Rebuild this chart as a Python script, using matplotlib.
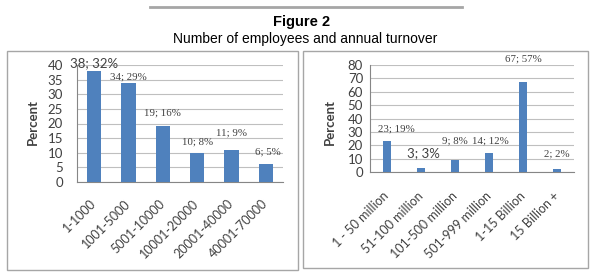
import matplotlib.pyplot as plt
from matplotlib.patches import Rectangle
from matplotlib.lines import Line2D

bar_color = "#4F81BD"
grid_color = "#BFBFBF"
box_color = "#A6A6A6"
text_color = "#404040"

# left chart: number of employees
employee_groups = ["1-1000", "1001-5000", "5001-10000",
                   "10001-20000", "20001-40000", "40001-70000"]
employee_counts = [38, 34, 19, 10, 11, 6]
employee_shares = [32, 29, 16, 8, 9, 5]

# right chart: annual turnover
turnover_groups = ["1 - 50 million", "51-100 million", "101-500 million",
                   "501-999 million", "1-15 Billion", "15 Billion +"]
turnover_counts = [23, 3, 9, 14, 67, 2]
turnover_shares = [19, 3, 8, 12, 57, 2]

# label offsets from bar tops, in pixels (dx, dy)
employee_offsets = [(0, 8), (0, 6), (0, 13), (0, 11), (0, 17), (2, 12)]
turnover_offsets = [(9, 12), (2, 15), (0, 19), (1, 12), (0, 23), (0, 15)]
employee_big = [True, False, False, False, False, False]
turnover_big = [False, True, False, False, False, False]

W, H = 595, 280
fig = plt.figure(figsize=(W / 100, H / 100), dpi=100)
fig.patch.set_facecolor("white")


def px_rect(x0, y0, x1, y1):
    # pixel box (top-left origin) -> figure fraction [l, b, w, h]
    return [x0 / W, 1 - y1 / H, (x1 - x0) / W, (y1 - y0) / H]


# header
fig.add_artist(Line2D([150 / W, 462 / W], [1 - 7 / H, 1 - 7 / H],
                      color=box_color, linewidth=2))
fig.text(302 / W, 1 - 22 / H, "Figure 2", ha="center", va="center",
         fontsize=10.5, fontweight="bold", family="Liberation Sans")
fig.text(305 / W, 1 - 39 / H, "Number of employees and annual turnover",
         ha="center", va="center", fontsize=10, family="Liberation Sans")

# panel frames
for x0, y0, x1, y1 in [(7, 51, 298, 270), (303, 51, 588, 268)]:
    l, b, w, h = px_rect(x0, y0, x1, y1)
    fig.add_artist(Rectangle((l, b), w, h, transform=fig.transFigure,
                             fill=False, edgecolor=box_color, linewidth=1))


def draw_panel(rect, cats, counts, shares, offsets, big, ymax, ystep,
               width, label_xy, tick_pad, ytick_pad):
    ax = fig.add_axes(px_rect(*rect))
    x = range(len(cats))
    ax.bar(x, counts, width=width, color=bar_color, zorder=3)
    ax.set_xlim(-0.5, len(cats) - 0.5)
    ax.set_ylim(0, ymax)
    ax.set_yticks(range(0, ymax + 1, ystep))
    ax.yaxis.grid(True, color=grid_color, linewidth=0.8, zorder=0)
    for side in ["top", "right"]:
        ax.spines[side].set_visible(False)
    ax.spines["left"].set_color("#868686")
    ax.spines["bottom"].set_color("#868686")
    ax.tick_params(axis="y", length=0, pad=ytick_pad, labelsize=9.5,
                   labelcolor=text_color)
    ax.tick_params(axis="x", length=0, pad=tick_pad)
    ax.set_xticks(list(x))
    ax.set_xticklabels(cats, rotation=45, ha="right", va="center",
                       rotation_mode="anchor", fontsize=9,
                       color=text_color, family="Lato")
    for lab in ax.get_yticklabels():
        lab.set_family("Lato")
    ax.set_ylabel("Percent", fontsize=9.5, fontweight="bold",
                  family="Lato", color=text_color)
    ax.yaxis.set_label_coords(*label_xy)
    for i, (c, s) in enumerate(zip(counts, shares)):
        dx, dy = offsets[i]
        if big[i]:
            kw = dict(fontsize=9.5, family="Lato")
        else:
            kw = dict(fontsize=7.8, family="Liberation Serif")
        ax.annotate(f"{c}; {s}%", (i, c), xytext=(dx * 0.72, dy * 0.72),
                    textcoords="offset points", ha="center", va="center",
                    color=text_color, annotation_clip=False, **kw)
    return ax


draw_panel((77, 65, 283, 182), employee_groups, employee_counts,
           employee_shares, employee_offsets, employee_big, 40, 5, 0.41,
           (-0.185, 0.513), 14, 10)
draw_panel((370, 65, 574, 172), turnover_groups, turnover_counts,
           turnover_shares, turnover_offsets, turnover_big, 80, 10, 0.25,
           (-0.165, 0.467), 16, 5)

fig.savefig("out.png", dpi=100, facecolor="white")
